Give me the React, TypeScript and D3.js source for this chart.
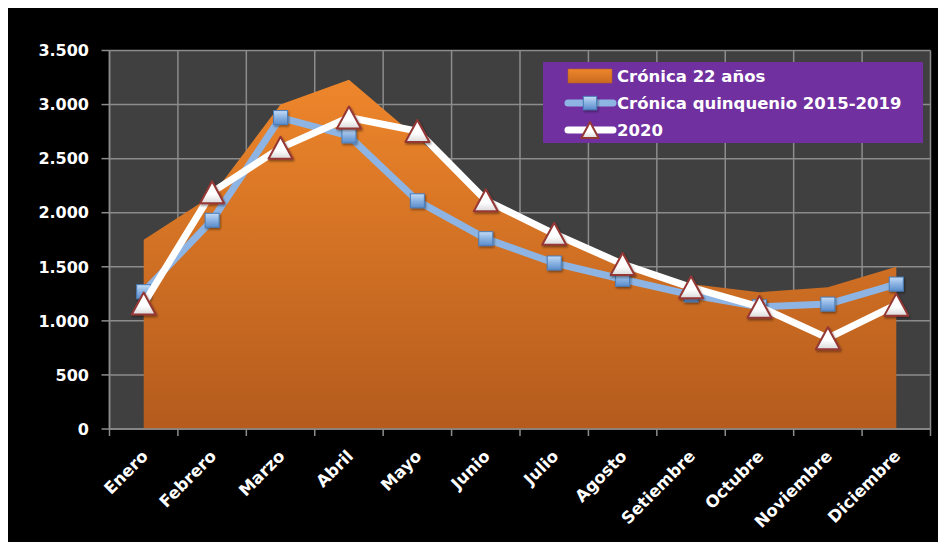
import React from "react";
import * as d3 from "d3";

const months = ["Enero", "Febrero", "Marzo", "Abril", "Mayo", "Junio", "Julio", "Agosto", "Setiembre", "Octubre", "Noviembre", "Diciembre"];
const cronica22 = [1750, 2160, 3000, 3230, 2690, 2140, 1790, 1530, 1340, 1265, 1310, 1500];
const quinquenio = [1270, 1930, 2880, 2710, 2110, 1760, 1535, 1385, 1240, 1130, 1155, 1340];
const y2020 = [1160, 2190, 2600, 2880, 2755, 2115, 1805, 1525, 1310, 1130, 840, 1150];
const yTicks = [0, 500, 1000, 1500, 2000, 2500, 3000, 3500];
const seriesNames = ["Crónica 22 años", "Crónica quinquenio 2015-2019", "2020"];

const W = 946, H = 542;
const plot = { left: 109.5, right: 930.5, top: 50.5, bottom: 429 };
const FONT = "'DejaVu Sans', Verdana, sans-serif";

export default function App() {
  const x = d3.scaleBand<string>().domain(months).range([plot.left, plot.right]);
  const xc = (m: string) => (x(m) as number) + x.bandwidth() / 2;
  const y = d3.scaleLinear().domain([0, 3500]).range([plot.bottom, plot.top]);
  const fmt = (v: number) => d3.format(",")(v).replace(/,/g, ".");

  const area = d3.area<number>().x((_, i) => xc(months[i])).y0(y(0)).y1((d) => y(d));
  const line = d3.line<number>().x((_, i) => xc(months[i])).y((d) => y(d));

  const sq = 14;
  const triPath = (cx: number, cy: number, s = 1) => {
    const w = 24 * s, h = 22 * s;
    return `M${cx},${cy - h / 2}L${cx + w / 2},${cy + h / 2}L${cx - w / 2},${cy + h / 2}Z`;
  };
  const square = (cx: number, cy: number, key: string, s = 1) => (
    <rect key={key} x={cx - (sq * s) / 2} y={cy - (sq * s) / 2} width={sq * s} height={sq * s}
      fill="url(#gSq)" stroke="#4a7ebb" strokeWidth={1} filter="url(#shadow)" />
  );

  const grid = "#8c8c8c";
  const boundaries = months.map((m) => x(m) as number).concat([plot.right]);

  const lg = { x: 543, y: 62, w: 380, h: 81 };

  return (
    <svg width={W - 8} height={H - 8} style={{ display: "block" }}>
      <defs>
        <linearGradient id="gArea" gradientUnits="userSpaceOnUse" x1="0" y1={y(3230)} x2="0" y2={y(0)}>
          <stop offset="0" stopColor="#ee862b" />
          <stop offset="1" stopColor="#b45b1d" />
        </linearGradient>
        <linearGradient id="gLegArea" x1="0" y1="0" x2="0" y2="1">
          <stop offset="0" stopColor="#ee862b" />
          <stop offset="1" stopColor="#c96a22" />
        </linearGradient>
        <linearGradient id="gSq" x1="0" y1="0" x2="0" y2="1">
          <stop offset="0" stopColor="#c5dcf5" />
          <stop offset="0.45" stopColor="#8fb6e4" />
          <stop offset="1" stopColor="#5a8ccb" />
        </linearGradient>
        <linearGradient id="gTri" x1="0" y1="0" x2="0" y2="1">
          <stop offset="0" stopColor="#ffffff" />
          <stop offset="0.6" stopColor="#ffffff" />
          <stop offset="1" stopColor="#d9d9d9" />
        </linearGradient>
        <filter id="shadow" x="-50%" y="-50%" width="200%" height="200%">
          <feDropShadow dx="1" dy="1.5" stdDeviation="1" floodColor="#000" floodOpacity="0.45" />
        </filter>
      </defs>
      <g transform="translate(-8,-8)">
        <rect x={8} y={8} width={W - 8} height={H - 8} fill="#000" />
        <rect x={plot.left} y={plot.top} width={plot.right - plot.left} height={plot.bottom - plot.top} fill="#404040" />
        {yTicks.map((t) => (
          <line key={"gy" + t} x1={plot.left} x2={plot.right} y1={y(t)} y2={y(t)} stroke={grid} strokeWidth={1.5} />
        ))}
        {boundaries.map((bx, i) => (
          <line key={"gx" + i} x1={bx} x2={bx} y1={plot.top} y2={plot.bottom} stroke={grid} strokeWidth={1.5} />
        ))}
        <path d={area(cronica22) || ""} fill="url(#gArea)" />
        {/* axes */}
        <line x1={plot.left} x2={plot.left} y1={plot.top} y2={plot.bottom} stroke={grid} strokeWidth={1.5} />
        <line x1={plot.left} x2={plot.right} y1={plot.bottom} y2={plot.bottom} stroke={grid} strokeWidth={1.5} />
        {yTicks.map((t) => (
          <g key={"ty" + t}>
            <line x1={plot.left - 8} x2={plot.left} y1={y(t)} y2={y(t)} stroke={grid} strokeWidth={1.5} />
            <text x={89} y={y(t)} dy="0.36em" textAnchor="end" fill="#fff" fontFamily={FONT} fontWeight="bold" fontSize={16}>
              {fmt(t)}
            </text>
          </g>
        ))}
        {boundaries.map((bx, i) => (
          <line key={"tx" + i} x1={bx} x2={bx} y1={plot.bottom} y2={plot.bottom + 7} stroke={grid} strokeWidth={1.5} />
        ))}
        {months.map((m) => (
          <text key={"lx" + m} transform={`translate(${xc(m) + 1},${plot.bottom + 24}) rotate(-45)`} textAnchor="end"
            dy="0.36em" fill="#fff" fontFamily={FONT} fontWeight="bold" fontSize={16.5}>
            {m}
          </text>
        ))}
        {/* series */}
        <path d={line(quinquenio) || ""} fill="none" stroke="#8db4e2" strokeWidth={7} strokeLinejoin="round" />
        {quinquenio.map((v, i) => square(xc(months[i]), y(v), "sq" + i))}
        <path d={line(y2020) || ""} fill="none" stroke="#ffffff" strokeWidth={7} strokeLinejoin="round" />
        {y2020.map((v, i) => (
          <path key={"tr" + i} d={triPath(xc(months[i]), y(v))} fill="url(#gTri)" stroke="#953735" strokeWidth={2}
            strokeLinejoin="round" filter="url(#shadow)" />
        ))}
        {/* legend */}
        <rect x={lg.x} y={lg.y} width={lg.w} height={lg.h} fill="#7030a0" />
        <rect x={568} y={69} width={44} height={14} fill="url(#gLegArea)" stroke="#b45b1d" strokeWidth={0.5} />
        <line x1={568} x2={613} y1={103} y2={103} stroke="#8db4e2" strokeWidth={7} strokeLinecap="round" />
        {square(590, 103, "lsq", 0.95)}
        <line x1={568} x2={613} y1={130} y2={130} stroke="#ffffff" strokeWidth={7} strokeLinecap="round" />
        <path d={triPath(590, 130, 0.72)} fill="url(#gTri)" stroke="#953735" strokeWidth={2} strokeLinejoin="round" />
        {seriesNames.map((s, i) => (
          <text key={"lt" + i} x={617} y={76 + i * 27} dy="0.36em" fill="#fff" fontFamily={FONT} fontWeight="bold" fontSize={16.5}>
            {s}
          </text>
        ))}
      </g>
    </svg>
  );
}
